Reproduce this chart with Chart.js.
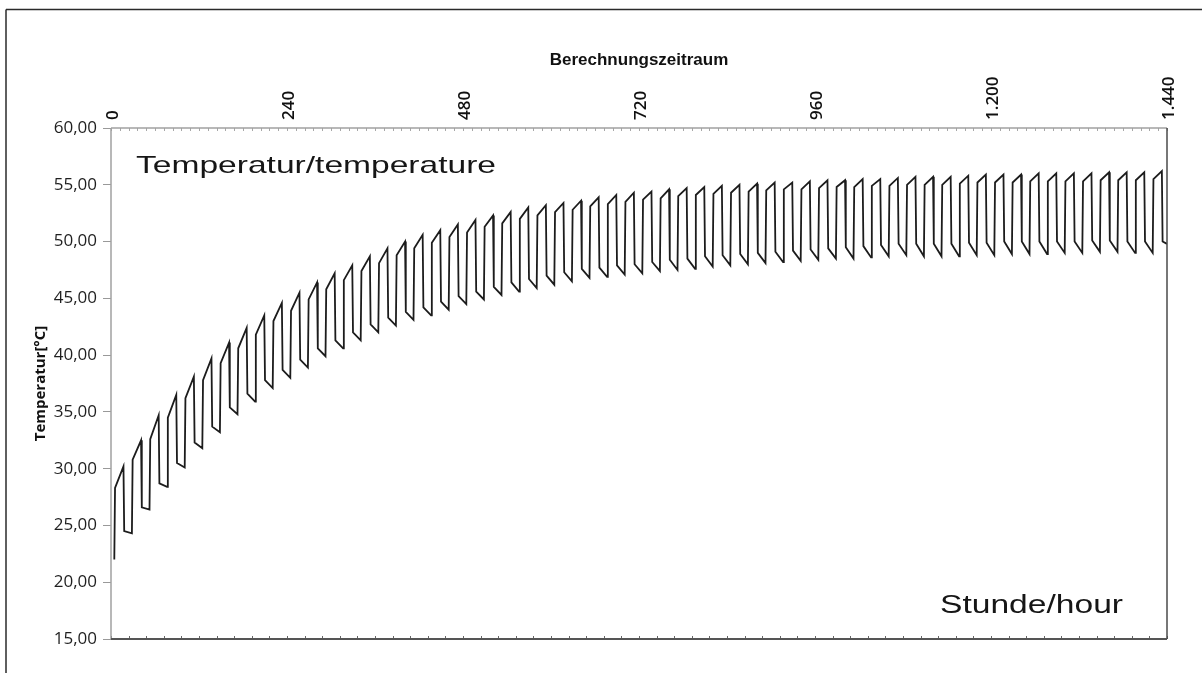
<!DOCTYPE html>
<html lang="de">
<head>
  <meta charset="UTF-8">
  <title>Temperatur / Berechnungszeitraum</title>
  <script src="https://cdn.jsdelivr.net/npm/chart.js"></script>
  <style>
    html, body { margin: 0; padding: 0; background: #fff; }
    #wrap { width: 1202px; height: 673px; position: relative; }
  </style>
</head>
<body>
  <div id="wrap"><canvas id="tempChart"></canvas></div>

  <script>
    // hours inside each daily cycle: before the rise, after the rise, peak, after the drop
    const dayPhase = [4.5, 5.5, 17, 18];
    const cycleLength = 24;

    // values, one per daily cycle (60 cycles)
    const troughs = [22.0, 24.3, 26.4, 28.4, 30.1, 31.8, 33.2, 34.8, 35.9, 37.1,
                     38.0, 38.9, 39.9, 40.6, 41.3, 42.0, 42.6, 43.1, 43.5, 44.0,
                     44.5, 44.9, 45.3, 45.6, 45.9, 46.2, 46.5, 46.8, 46.9, 47.1,
                     47.2, 47.4, 47.5, 47.6, 47.8, 47.9, 48.0, 48.1, 48.2, 48.3,
                     48.4, 48.5, 48.5, 48.6, 48.7, 48.8, 48.7, 48.7, 48.7, 48.8,
                     48.8, 48.9, 48.9, 48.9, 49.0, 49.0, 49.1, 49.1, 49.0, 49.0];
    const riseTops = [28.3, 30.8, 32.6, 34.5, 36.2, 37.8, 39.3, 40.6, 41.8, 43.0,
                      43.9, 44.9, 45.8, 46.6, 47.4, 48.1, 48.8, 49.4, 49.9, 50.4,
                      50.8, 51.3, 51.6, 52.0, 52.3, 52.6, 52.8, 53.1, 53.3, 53.5,
                      53.7, 53.8, 54.0, 54.1, 54.2, 54.3, 54.4, 54.5, 54.6, 54.6,
                      54.7, 54.8, 54.8, 54.9, 54.9, 55.0, 55.0, 55.0, 55.1, 55.2,
                      55.2, 55.2, 55.3, 55.3, 55.3, 55.3, 55.4, 55.4, 55.4, 55.5];
    const peaks = [30.2, 32.5, 34.7, 36.5, 38.1, 39.7, 41.1, 42.4, 43.5, 44.6,
                   45.5, 46.4, 47.2, 47.9, 48.7, 49.4, 50.0, 50.6, 51.0, 51.5,
                   51.9, 52.3, 52.6, 53.0, 53.2, 53.4, 53.6, 53.9, 54.1, 54.3,
                   54.4, 54.6, 54.7, 54.8, 54.9, 55.0, 55.1, 55.2, 55.2, 55.3,
                   55.4, 55.4, 55.5, 55.5, 55.6, 55.7, 55.7, 55.7, 55.8, 55.9,
                   55.9, 55.9, 56.0, 56.0, 56.0, 56.0, 56.1, 56.1, 56.1, 56.2];
    const dropBottoms = [24.5, 26.6, 28.7, 30.5, 32.3, 33.7, 35.4, 36.6, 37.8, 38.7,
                         39.6, 40.6, 41.3, 42.0, 42.7, 43.3, 43.8, 44.2, 44.7, 45.2,
                         45.6, 46.0, 46.4, 46.7, 47.0, 47.3, 47.6, 47.7, 47.9, 48.0,
                         48.2, 48.4, 48.5, 48.7, 48.8, 48.9, 49.0, 49.1, 49.2, 49.3,
                         49.4, 49.5, 49.6, 49.7, 49.8, 49.8, 49.8, 49.8, 49.9, 49.9,
                         50.0, 50.0, 50.0, 50.0, 50.0, 50.1, 50.1, 50.0, 50.0, 50.0];
    const endValue = 49.8;

    const topTicks = [0, 240, 480, 720, 960, 1200, 1440];
    const yTicks = [15, 20, 25, 30, 35, 40, 45, 50, 55, 60];

    // build the sawtooth from the per-cycle values
    const points = [];
    for (let k = 0; k < peaks.length; k++) {
      const start = k * cycleLength;
      points.push({ x: start + dayPhase[0], y: troughs[k] });
      points.push({ x: start + dayPhase[1], y: riseTops[k] });
      points.push({ x: start + dayPhase[2], y: peaks[k] });
      points.push({ x: start + dayPhase[3], y: dropBottoms[k] });
    }
    points.push({ x: 1440, y: endValue });

    function formatHour(v) {
      if (v >= 1000) return Math.floor(v / 1000) + '.' + String(v % 1000).padStart(3, '0');
      return String(v);
    }

    function drawWideText(ctx, text, x, baseline, size, width) {
      ctx.save();
      ctx.font = size + "px 'Liberation Sans', Arial, sans-serif";
      const natural = ctx.measureText(text).width;
      ctx.translate(x, baseline);
      ctx.scale(width / natural, 1);
      ctx.fillStyle = '#161616';
      ctx.textBaseline = 'alphabetic';
      ctx.fillText(text, 0, 0);
      ctx.restore();
    }

    function line(ctx, x1, y1, x2, y2) {
      ctx.beginPath();
      ctx.moveTo(x1, y1);
      ctx.lineTo(x2, y2);
      ctx.stroke();
    }

    // frame, plot border, small ticks and the two labels inside the plot
    const decorations = {
      id: 'decorations',
      afterDatasetsDraw(chart) {
        const { ctx, chartArea: a } = chart;
        const top = chart.scales.xTop;
        const bottom = chart.scales.x;
        ctx.save();

        ctx.strokeStyle = '#2a2a2a';
        ctx.lineWidth = 1.5;
        line(ctx, 6, 9.5, chart.width, 9.5);
        line(ctx, 6, 9.5, 6, chart.height);

        ctx.lineWidth = 1;
        ctx.strokeStyle = '#a8a8a8';
        for (let h = 0; h <= 1440; h += 12) {
          const px = Math.round(top.getPixelForValue(h)) + 0.5;
          line(ctx, px, a.top, px, a.top + 3);
        }
        ctx.strokeStyle = '#666';
        for (let h = 0; h <= 1440; h += 24) {
          const px = Math.round(bottom.getPixelForValue(h)) + 0.5;
          line(ctx, px, a.bottom - 3, px, a.bottom);
        }

        ctx.lineWidth = 1.5;
        ctx.strokeStyle = '#a0a0a0';
        line(ctx, a.left, a.top, a.left, a.bottom);
        line(ctx, a.left, a.top, a.right, a.top);
        ctx.strokeStyle = '#4a4a4a';
        line(ctx, a.right, a.top, a.right, a.bottom);
        ctx.lineWidth = 2;
        ctx.strokeStyle = '#555';
        line(ctx, a.left, a.bottom, a.right, a.bottom);
        ctx.restore();

        drawWideText(ctx, 'Temperatur/temperature', a.left + 25, a.top + 45, 24, 360);
        drawWideText(ctx, 'Stunde/hour', a.right - 227, a.bottom - 26, 26, 183);
      }
    };

    const ctx = document.getElementById('tempChart').getContext('2d');
    new Chart(ctx, {
      type: 'line',
      data: {
        datasets: [{
          label: 'Temperatur',
          data: points,
          xAxisID: 'x',
          yAxisID: 'y',
          borderColor: '#1c1c1c',
          borderWidth: 1.8,
          pointRadius: 0,
          tension: 0,
          fill: false
        }]
      },
      options: {
        responsive: true,
        maintainAspectRatio: false,
        animation: false,
        layout: { padding: { left: 0, top: 0, right: 35, bottom: 0 } },
        plugins: {
          legend: { display: false },
          tooltip: { enabled: false }
        },
        scales: {
          x: {
            type: 'linear',
            position: 'bottom',
            min: 0,
            max: 1440,
            ticks: { display: false },
            grid: { display: false },
            border: { display: false },
            afterFit: s => { s.height = 34; }
          },
          xTop: {
            type: 'linear',
            position: 'top',
            min: 0,
            max: 1440,
            afterBuildTicks: s => { s.ticks = topTicks.map(v => ({ value: v })); },
            ticks: {
              autoSkip: false,
              minRotation: 90,
              maxRotation: 90,
              padding: 0,
              labelOffset: 23,
              color: '#111',
              font: { family: "'Open Sans', sans-serif", size: 17, weight: '600' },
              callback: v => formatHour(v)
            },
            grid: { display: false },
            border: { display: false },
            title: {
              display: true,
              text: 'Berechnungszeitraum',
              color: '#111',
              font: { family: "'Liberation Sans', Arial, sans-serif", size: 17, weight: 'bold' },
              padding: { top: 50, bottom: 0 }
            },
            afterFit: s => { s.height = 128; }
          },
          y: {
            type: 'linear',
            position: 'left',
            min: 15,
            max: 60,
            afterBuildTicks: s => { s.ticks = yTicks.map(v => ({ value: v })); },
            ticks: {
              padding: 6,
              color: '#1f1f1f',
              font: { family: "'Open Sans', sans-serif", size: 17 },
              callback: v => v.toFixed(2).replace('.', ',')
            },
            grid: { drawOnChartArea: false, tickLength: 8, color: '#999', lineWidth: 1 },
            border: { display: false },
            title: {
              display: true,
              text: 'Temperatur[°C]',
              color: '#111',
              font: { family: "'Open Sans', sans-serif", size: 15, weight: 'bold' },
              padding: { top: 32, bottom: 0 }
            },
            afterFit: s => { s.width = 111; }
          }
        }
      },
      plugins: [decorations]
    });
  </script>
</body>
</html>
